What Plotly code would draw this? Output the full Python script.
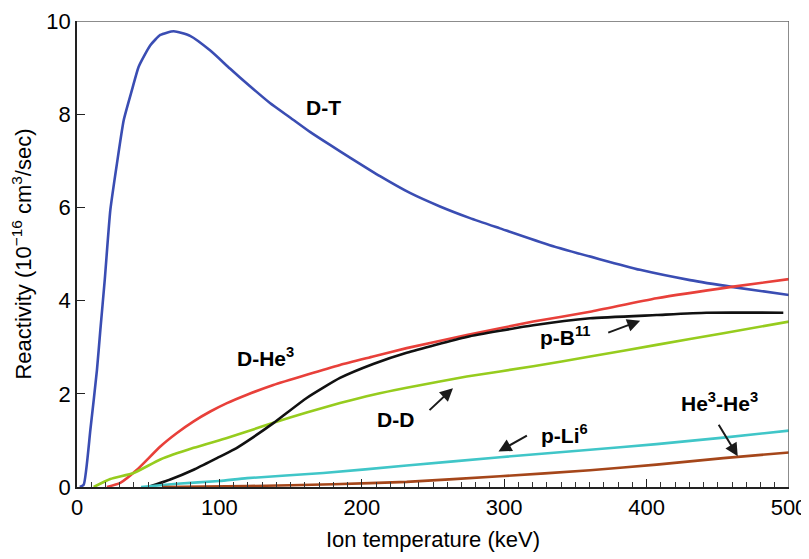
import plotly.graph_objects as go

# ---- data ----
dt_T = [2, 4.7, 9.4, 14, 16.4, 19.5, 23.4, 28.1, 32.8, 38.6, 43.3, 51.5, 58.5, 67.9, 79.4, 93.4, 107.4, 121.5, 135.5, 149.6, 163.6, 177.7, 191.7, 212.8, 233.8, 254.9, 276, 297, 332, 367, 395.4, 430.5, 460.9, 500]
dt_R = [0, 0.05, 1.23, 2.51, 3.37, 4.45, 5.94, 6.95, 7.87, 8.52, 9.02, 9.48, 9.7, 9.78, 9.68, 9.37, 8.98, 8.6, 8.24, 7.93, 7.62, 7.34, 7.07, 6.67, 6.31, 6.02, 5.77, 5.55, 5.19, 4.89, 4.66, 4.44, 4.29, 4.12]

dhe3_T = [21, 30.4, 42.1, 58.5, 70.2, 81.9, 93.6, 105.3, 119.4, 137.9, 161.3, 184.7, 208, 231.5, 273.7, 320.4, 360.3, 407, 460.9, 500]
dhe3_R = [0, 0.09, 0.37, 0.87, 1.16, 1.41, 1.62, 1.8, 1.98, 2.19, 2.41, 2.62, 2.8, 2.98, 3.26, 3.55, 3.76, 4.05, 4.3, 4.46]

pb11_T = [50, 65.5, 81.9, 98.3, 110, 119.4, 137.9, 161.3, 184.7, 208, 231.5, 273.7, 320.4, 360.3, 407, 442, 496]
pb11_R = [0, 0.16, 0.37, 0.62, 0.8, 0.98, 1.37, 1.91, 2.34, 2.64, 2.88, 3.22, 3.47, 3.62, 3.69, 3.74, 3.74]

dd_T = [11.7, 23.4, 39.8, 58.5, 81.9, 105.3, 119.4, 137.9, 161.3, 184.7, 208, 231.5, 273.7, 320.4, 360.3, 407, 453.9, 500]
dd_R = [0, 0.17, 0.3, 0.59, 0.84, 1.05, 1.19, 1.38, 1.6, 1.8, 1.98, 2.13, 2.37, 2.59, 2.8, 3.05, 3.3, 3.55]

pli6_T = [45, 70, 100, 119.4, 173, 231.5, 297, 360.3, 407, 453.9, 500]
pli6_R = [0, 0.07, 0.13, 0.19, 0.3, 0.46, 0.64, 0.8, 0.92, 1.06, 1.21]

he3_T = [60, 120, 180, 231.5, 297, 360.3, 407, 453.9, 500]
he3_R = [0, 0.02, 0.06, 0.11, 0.23, 0.36, 0.48, 0.62, 0.74]

x_ticks = [0, 100, 200, 300, 400, 500]
y_ticks = [0, 2, 4, 6, 8, 10]

series = [
    ("D-T", dt_T, dt_R, "#3a4db3"),
    ("D-He3", dhe3_T, dhe3_R, "#e8403a"),
    ("D-D", dd_T, dd_R, "#96cc1e"),
    ("p-B11", pb11_T, pb11_R, "#111111"),
    ("p-Li6", pli6_T, pli6_R, "#40c6c8"),
    ("He3-He3", he3_T, he3_R, "#a5461a"),
]

FONT = "Liberation Sans, Arial, Helvetica, sans-serif"

fig = go.Figure()
for name, T, R, c in series:
    fig.add_trace(go.Scatter(x=T, y=R, mode="lines", name=name,
                             line=dict(color=c, width=2.6, shape="spline", smoothing=0.5),
                             showlegend=False, hoverinfo="skip"))

labels = [
    ("D-T", 173, 8.14),
    ("D-He<sup>3</sup>", 132.7, 2.8),
    ("D-D", 224, 1.44),
    ("p-B<sup>11</sup>", 343, 3.25),
    ("p-Li<sup>6</sup>", 342, 1.13),
    ("He<sup>3</sup>-He<sup>3</sup>", 451, 1.82),
]
for txt, x, y in labels:
    fig.add_annotation(x=x, y=y, text="<b>" + txt + "</b>", showarrow=False,
                       font=dict(family=FONT, size=21, color="black"))

arrows = [  # head x, head y, tail x, tail y
    (264, 2.12, 246.5, 1.62),
    (395.5, 3.57, 372, 3.3),
    (296, 0.76, 317, 1.12),
    (464, 0.66, 450, 1.37),
]
for hx, hy, tx, ty in arrows:
    fig.add_annotation(x=hx, y=hy, ax=tx, ay=ty, xref="x", yref="y", axref="x", ayref="y",
                       text="", showarrow=True, arrowhead=2, arrowsize=1.3,
                       arrowwidth=2, arrowcolor="#1a1a1a")

# gray top/right frame
fig.add_shape(type="line", xref="x", yref="y", x0=0, x1=500, y0=10, y1=10,
              line=dict(color="#666666", width=1.5))
fig.add_shape(type="line", xref="x", yref="y", x0=500, x1=500, y0=0, y1=10,
              line=dict(color="#666666", width=1.5))

# page body has an 8px margin, so the figure is shrunk to fit the window
fig.update_layout(
    width=801, height=551,
    margin=dict(l=69, r=20, t=13, b=72),
    paper_bgcolor="white", plot_bgcolor="white",
    font=dict(family=FONT, size=22, color="black"),
    xaxis=dict(range=[0, 500], tickvals=x_ticks, ticks="inside", ticklen=8, tickwidth=1.2,
               tickcolor="#222", showgrid=False, zeroline=False, automargin=False,
               showline=True, linecolor="#222", linewidth=1.5,
               minor=dict(ticks="inside", ticklen=5, tickwidth=1, tickcolor="#333", dtick=10),
               title=dict(text="Ion temperature (keV)", standoff=12,
                          font=dict(size=22)),
               tickfont=dict(size=22)),
    yaxis=dict(range=[0, 10], tickvals=y_ticks, ticks="inside", ticklen=8, tickwidth=1.2,
               tickcolor="#222", showgrid=False, zeroline=False, automargin=False,
               showline=True, linecolor="#222", linewidth=1.5,
               title=dict(text="Reactivity (10<sup>\u221216</sup> cm<sup>3</sup>/sec)", standoff=9,
                          font=dict(size=22)),
               tickfont=dict(size=22)),
)

fig.write_html("out.html")
